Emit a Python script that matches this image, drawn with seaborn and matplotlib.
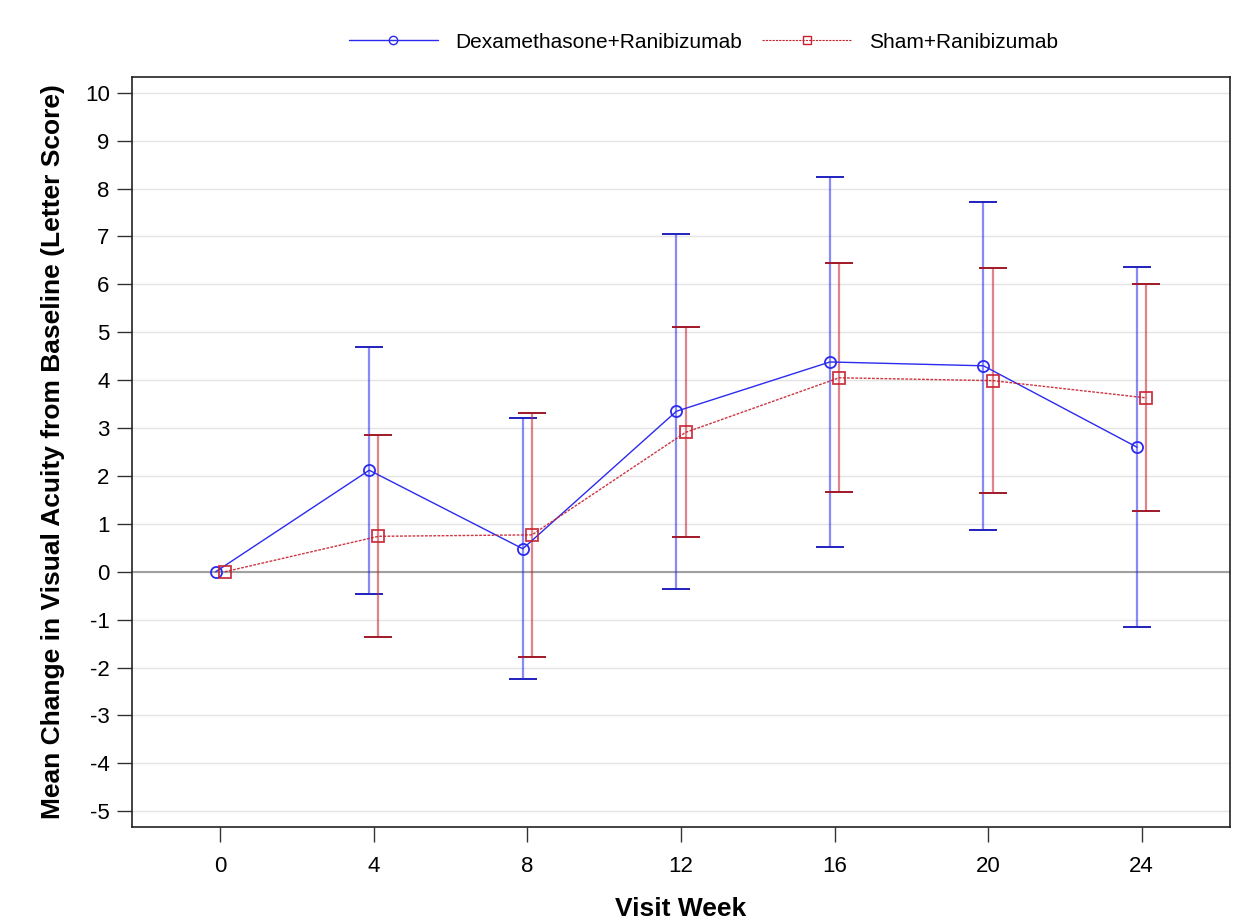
import numpy as np
import pandas as pd
import matplotlib
matplotlib.use("Agg")
import matplotlib.pyplot as plt
import seaborn as sns
from matplotlib.lines import Line2D

weeks = [0, 4, 8, 12, 16, 20, 24]
dex_mean = [0.0, 2.12, 0.48, 3.35, 4.38, 4.30, 2.60]
dex_upper = [0.0, 4.70, 3.22, 7.05, 8.25, 7.73, 6.36]
dex_lower = [0.0, -0.47, -2.25, -0.37, 0.52, 0.87, -1.15]
sham_mean = [0.0, 0.74, 0.77, 2.91, 4.05, 3.99, 3.63]
sham_upper = [0.0, 2.85, 3.31, 5.10, 6.45, 6.34, 6.00]
sham_lower = [0.0, -1.37, -1.78, 0.72, 1.66, 1.65, 1.27]
groups = ["Dexamethasone+Ranibizumab", "Sham+Ranibizumab"]
yticks = list(range(-5, 11))

sns.set_theme(style="white")
plt.rcParams['font.family'] = ['Liberation Sans', 'DejaVu Sans']
plt.rcParams['text.color'] = 'black'
plt.rcParams['axes.labelcolor'] = 'black'
plt.rcParams['xtick.color'] = 'black'
plt.rcParams['ytick.color'] = 'black'

fig = plt.figure(figsize=(12.38, 9.19), dpi=100)
ax = fig.add_axes([0.1066, 0.1001, 0.8869, 0.8161])

offsets = {groups[0]: -0.12, groups[1]: 0.12}
df = pd.DataFrame({
    "week": weeks * 2,
    "mean": dex_mean + sham_mean,
    "upper": dex_upper + sham_upper,
    "lower": dex_lower + sham_lower,
    "group": [groups[0]] * len(weeks) + [groups[1]] * len(weeks),
})
df["xpos"] = df["week"] + df["group"].map(offsets)

colors = {groups[0]: "#2b2bf0", groups[1]: "#c8202e"}
cap_colors = {groups[0]: "#2020c0", groups[1]: "#a01828"}

for yv in yticks:
    ax.axhline(yv, color="#e4e4e4", lw=1, zorder=0)
ax.axhline(0, color="#a0a0a0", lw=1.5, zorder=1)

for g in groups:
    sub = df[df["group"] == g]
    m = sub["week"] > 0
    yerr = [sub["mean"][m] - sub["lower"][m], sub["upper"][m] - sub["mean"][m]]
    ax.errorbar(sub["xpos"][m], sub["mean"][m], yerr=yerr,
                fmt="none", ecolor=colors[g], elinewidth=1.6, alpha=0.55,
                capsize=0, zorder=2)
    ax.errorbar(sub["xpos"][m], sub["mean"][m], yerr=yerr,
                fmt="none", ecolor=cap_colors[g], elinewidth=0, capsize=10,
                capthick=1.4, zorder=2)

sns.lineplot(data=df, x="xpos", y="mean", hue="group", style="group",
             palette=colors, markers={groups[0]: "o", groups[1]: "s"},
             dashes={groups[0]: "", groups[1]: (2, 1)},
             markersize=8, markerfacecolor="none", linewidth=1.0,
             ax=ax, zorder=3, legend=False)
for ln in ax.lines[-2:]:
    c = ln.get_color()
    ln.set_markeredgecolor(c)
    ln.set_markeredgewidth(1.3)
ax.lines[-1].set_alpha(0.9)

handles = [
    Line2D([], [], color=colors[groups[0]], marker="o", markerfacecolor="none",
           markersize=6, lw=1.0),
    Line2D([], [], color=colors[groups[1]], marker="s", markerfacecolor="none",
           markersize=6, lw=0.8, ls=(0, (2, 1))),
]
fig.legend(handles, groups, loc="center", bbox_to_anchor=(0.568, 0.954), ncol=2,
           frameon=False, fontsize=15, handlelength=4.3, columnspacing=1.0,
           handletextpad=0.8)

ax.set_xlim(-2.3, 26.3)
ax.set_ylim(-5.33, 10.33)
ax.set_xticks(weeks)
ax.set_xticklabels([str(w) for w in weeks])
ax.set_yticks(yticks)
ax.set_yticklabels([str(v) for v in yticks])
ax.tick_params(axis="both", direction="out", length=11, width=1, color="#333333",
               labelsize=16, pad=5, bottom=True, left=True)
ax.tick_params(axis="x", pad=10)
for sp in ax.spines.values():
    sp.set_color("#222222")
    sp.set_linewidth(1.2)
ax.set_xlabel("Visit Week", fontsize=19, fontweight="bold", labelpad=14)
ax.set_ylabel("Mean Change in Visual Acuity from Baseline (Letter Score)",
              fontsize=19, fontweight="bold", labelpad=14)

fig.savefig("out.png", dpi=100)
